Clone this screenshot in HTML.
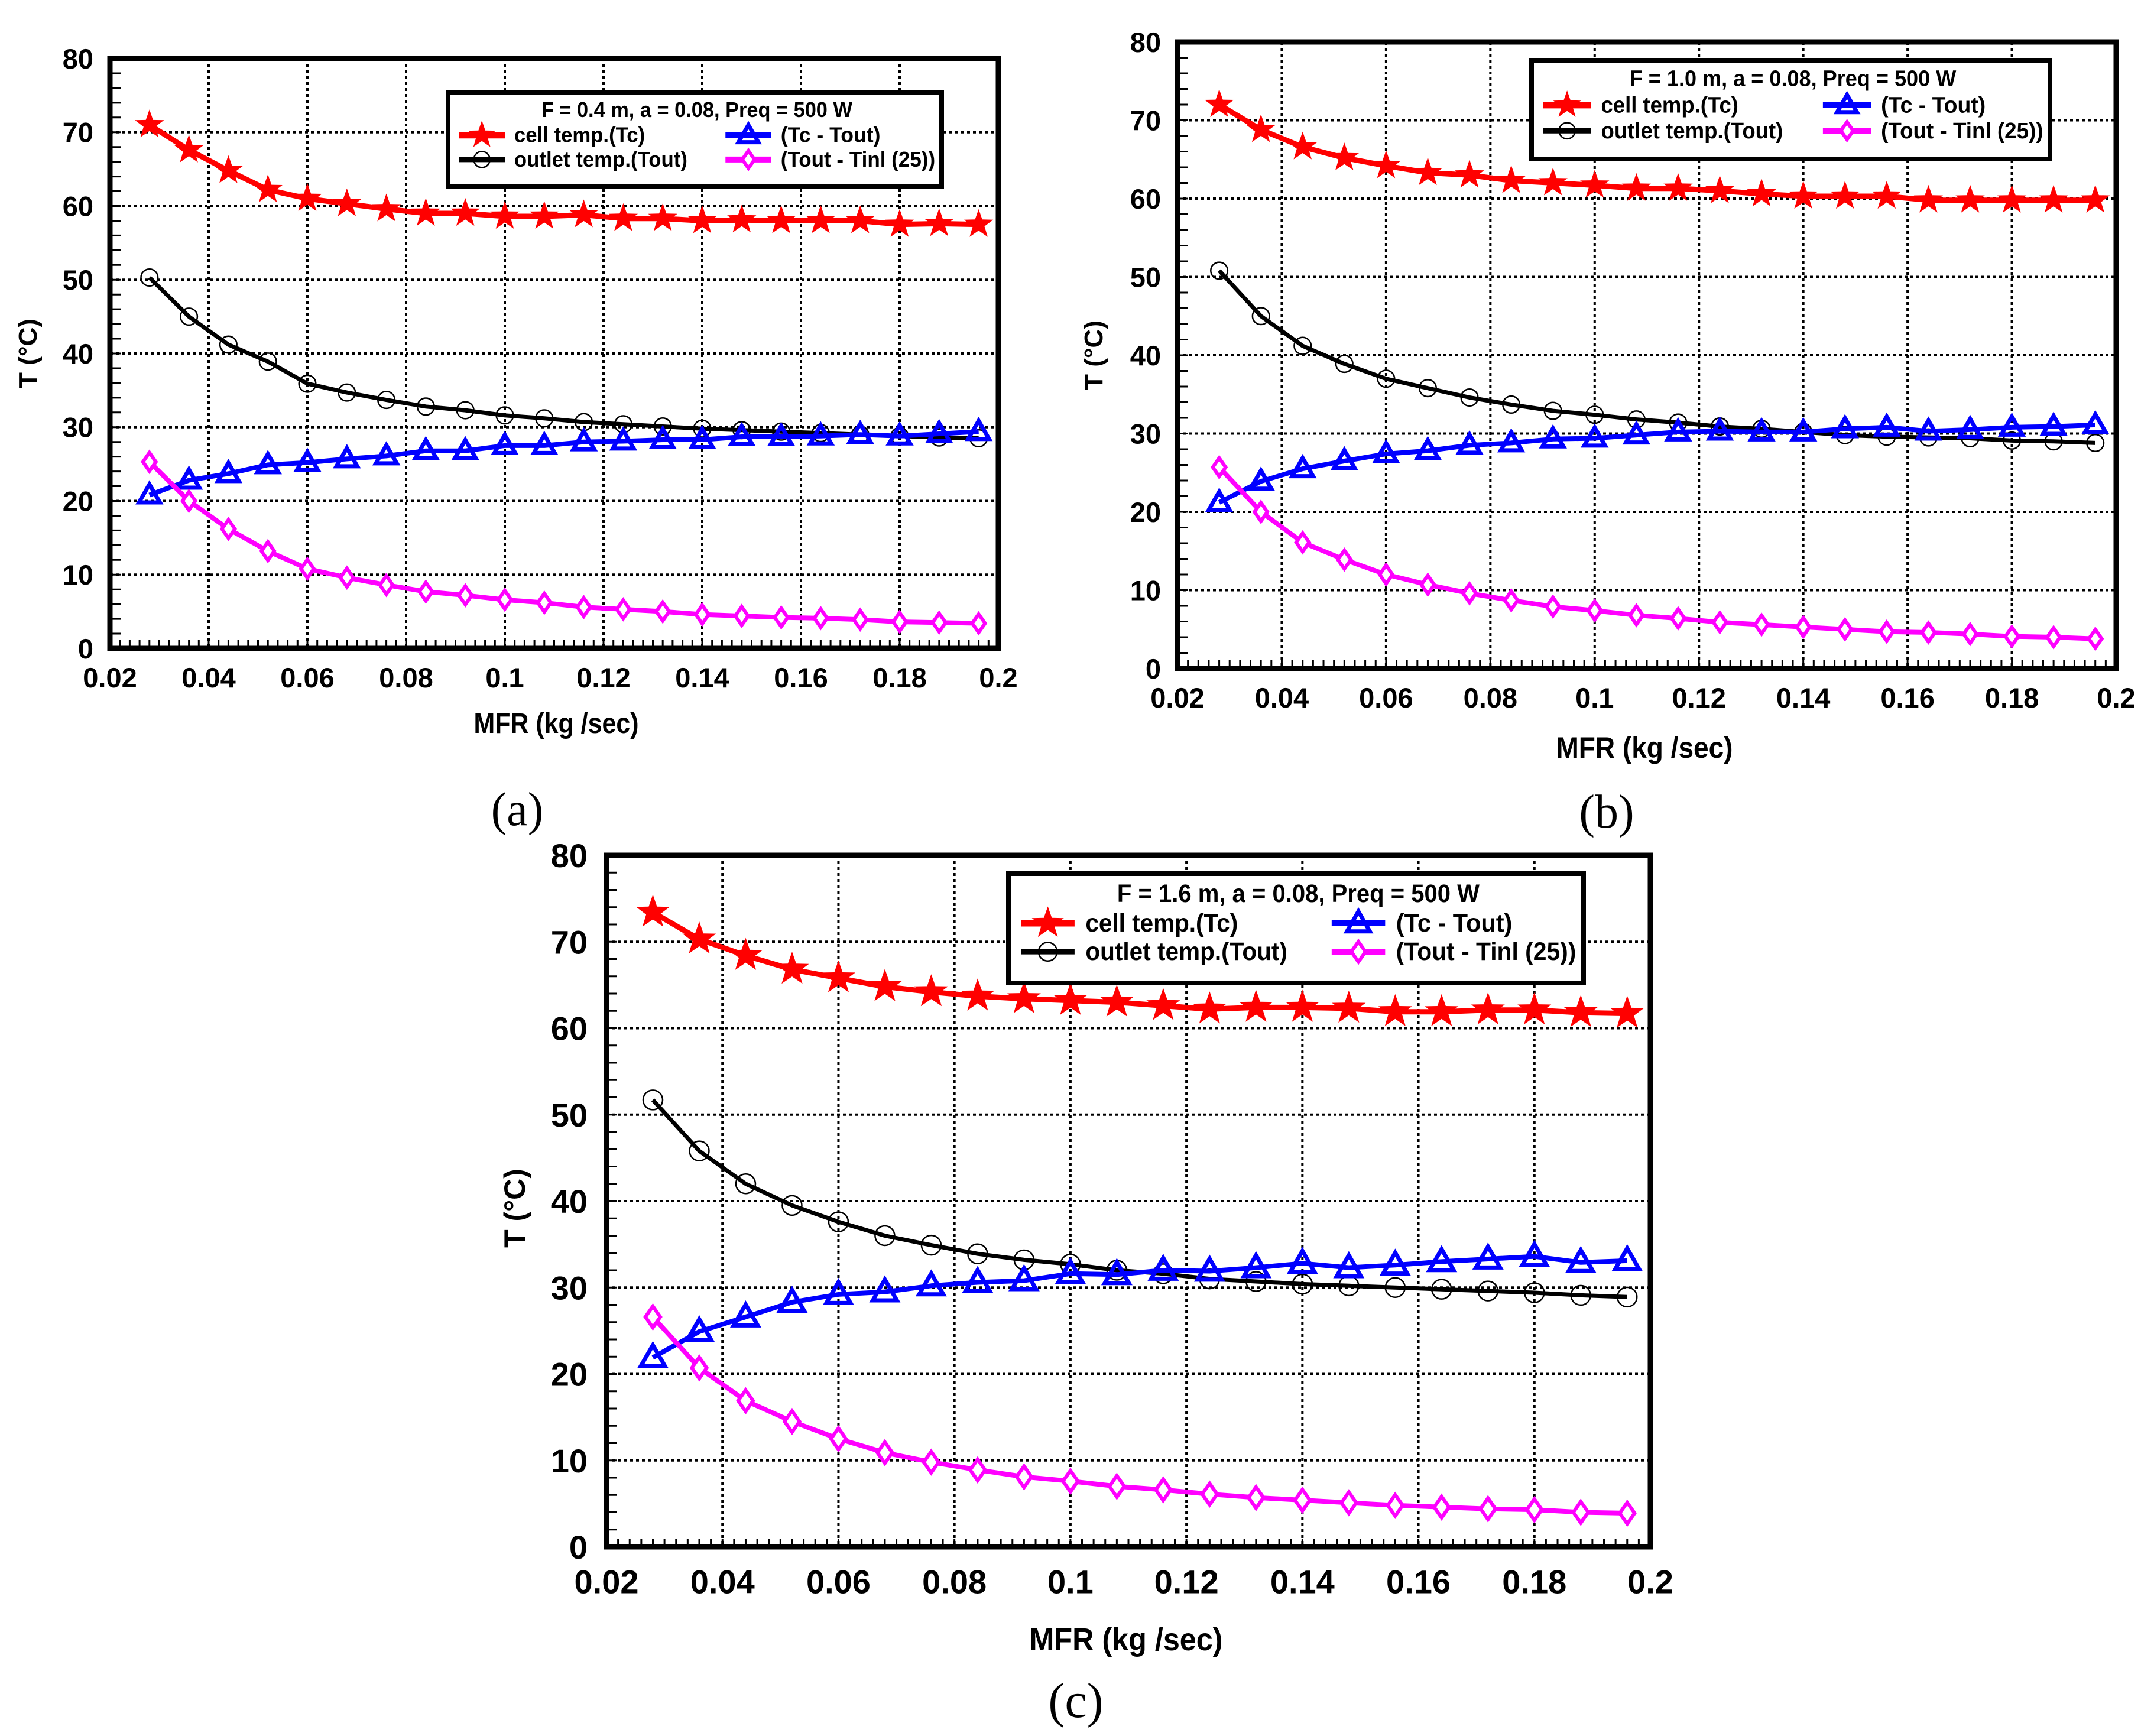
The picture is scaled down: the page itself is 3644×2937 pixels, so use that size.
<!DOCTYPE html>
<html><head><meta charset="utf-8"><style>
html,body{margin:0;padding:0;background:#fff;}
svg{display:block;}
</style></head><body>
<svg id="fig" xmlns="http://www.w3.org/2000/svg" width="3644" height="2937" viewBox="0 0 3644 2937">
<rect x="0" y="0" width="3644" height="2937" fill="#fff"/>
</svg>
<script>
// shared x categories (MFR, kg/s)
const mfr = [0.028,0.036,0.044,0.052,0.060,0.068,0.076,0.084,0.092,0.100,0.108,0.116,0.124,0.132,0.140,0.148,0.156,0.164,0.172,0.180,0.188,0.196];
const xTicks = [0.02,0.04,0.06,0.08,0.1,0.12,0.14,0.16,0.18,0.2];
const xTickLabels = ["0.02","0.04","0.06","0.08","0.1","0.12","0.14","0.16","0.18","0.2"];
const yTicks = [0,10,20,30,40,50,60,70,80];
const yTickLabels = ["0","10","20","30","40","50","60","70","80"];

// panel (a) F = 0.4 m
const tcA = [71,67.6,64.8,62.2,61,60.3,59.6,59,59,58.6,58.6,58.8,58.3,58.3,58,58.1,58,58,58,57.5,57.6,57.5];
const toutA = [50.3,45,41.2,38.9,35.9,34.7,33.7,32.8,32.3,31.6,31.2,30.7,30.4,30.1,29.8,29.6,29.4,29.2,29,28.8,28.6,28.5];
const dTcA = [20.8,22.8,23.7,24.9,25.2,25.7,26.1,26.8,26.8,27.5,27.5,28,28.1,28.3,28.3,28.7,28.7,28.8,29,28.8,29.1,29.4];
const dInA = [25.3,20,16.2,13.2,10.8,9.6,8.6,7.7,7.2,6.6,6.2,5.6,5.3,5,4.6,4.4,4.2,4.1,3.9,3.6,3.5,3.4];
// panel (b) F = 1.0 m
const tcB = [72,68.8,66.6,65.2,64.2,63.3,63,62.3,62,61.7,61.3,61.3,61,60.6,60.3,60.3,60.3,59.8,59.8,59.8,59.8,59.8];
const toutB = [50.8,45,41.2,38.9,37,35.8,34.6,33.7,32.9,32.4,31.8,31.4,30.9,30.6,30.2,29.8,29.6,29.5,29.4,29.1,29,28.8];
const dTcB = [21.2,23.9,25.5,26.5,27.4,27.8,28.5,28.8,29.3,29.4,29.8,30.2,30.3,30.2,30.2,30.6,30.8,30.3,30.5,30.8,30.9,31.1];
const dInB = [25.7,20,16.1,13.9,12,10.7,9.6,8.7,7.9,7.4,6.8,6.4,5.9,5.6,5.3,5,4.7,4.6,4.4,4.1,4,3.8];
// panel (c) F = 1.6 m
const tcC = [73.4,70.3,68.4,66.8,65.8,64.8,64.2,63.7,63.4,63.2,63,62.6,62.2,62.4,62.4,62.3,61.9,61.9,62.1,62.1,61.8,61.7];
const toutC = [51.7,45.8,42,39.5,37.6,36,34.9,33.9,33.2,32.7,32,31.6,31,30.7,30.4,30.2,30,29.8,29.6,29.4,29.1,28.9];
const dTcC = [21.9,24.9,26.6,28.3,29.2,29.5,30.2,30.6,30.8,31.6,31.5,32,31.9,32.3,32.8,32.3,32.6,33,33.3,33.6,32.9,33.1];
const dInC = [26.6,20.7,16.9,14.5,12.5,10.9,9.8,8.9,8.1,7.6,7,6.6,6.1,5.7,5.4,5.1,4.8,4.6,4.4,4.3,4,3.9];

const legendTitles = ["F = 0.4 m, a = 0.08, Preq = 500 W","F = 1.0 m, a = 0.08, Preq = 500 W","F = 1.6 m, a = 0.08, Preq = 500 W"];
const seriesNames = ["cell temp.(Tc)","(Tc - Tout)","outlet temp.(Tout)","(Tout - Tinl (25))"];
const nameWidthFrac = [0.265,0.202,0.351,0.313];

const NS = "http://www.w3.org/2000/svg";
const svg = document.getElementById('fig');
function mk(tag, attrs, parent){
  const e = document.createElementNS(NS, tag);
  for (const k in attrs) e.setAttribute(k, attrs[k]);
  (parent||svg).appendChild(e);
  return e;
}
function starPts(cx, cy, R){
  const r = R*0.4; let p=[];
  for(let i=0;i<10;i++){const a=-Math.PI/2+i*Math.PI/5; const rr=i%2?r:R; p.push((cx+rr*Math.cos(a)).toFixed(1)+","+(cy+rr*Math.sin(a)).toFixed(1));}
  return p.join(" ");
}
function marker(g, type, cx, cy, s){
  let m;
  if(type==='star'){ m = mk('polygon',{points:starPts(cx,cy,s*1.0),fill:'#ff0000'},g); }
  else if(type==='circle'){ m = mk('circle',{cx:cx,cy:cy,r:s*0.55,fill:'none',stroke:'#000','stroke-width':2.5},g); }
  else if(type==='tri'){ m = mk('polygon',{points:`${cx},${cy-s*0.7} ${cx-s*0.68},${cy+s*0.48} ${cx+s*0.68},${cy+s*0.48}`,fill:'none',stroke:'#0000ff','stroke-width':7},g); }
  else { m = mk('polygon',{points:`${cx},${cy-s*0.6} ${cx-s*0.42},${cy} ${cx},${cy+s*0.6} ${cx+s*0.42},${cy}`,fill:'#fff',stroke:'#ff00ff','stroke-width':6},g); }
  return m;
}

const panels = [
  {id:'a', L:186, R:1689, T:99, B:1097, tick:47, xlab:{x:941,y:1240,fs:48,w:279}, ylab:{x:62,y:598,fs:44}, letter:{x:875,y:1396,t:'(a)'}, leg:{x:758,y:157,w:835,h:158}, series:[tcA,toutA,dTcA,dInA], ms:26, ylabOff:28},
  {id:'b', L:1992, R:3580, T:71, B:1131, tick:47, xlab:{x:2782,y:1282,fs:50,w:299}, ylab:{x:1865,y:601,fs:44}, letter:{x:2718,y:1400,t:'(b)'}, leg:{x:2591,y:102,w:877,h:167}, series:[tcB,toutB,dTcB,dInB], ms:26, ylabOff:28},
  {id:'c', L:1026, R:2792, T:1447, B:2617, tick:56, xlab:{x:1905,y:2792,fs:54,w:327}, ylab:{x:888,y:2044,fs:50}, letter:{x:1820,y:2905,t:'(c)'}, leg:{x:1706,y:1478,w:973,h:185}, series:[tcC,toutC,dTcC,dInC], ms:30, ylabOff:32}
];
const styles = [
  {color:'#ff0000', w:9, m:'star', name:'cell-temp'},
  {color:'#000000', w:7, m:'circle', name:'outlet-temp'},
  {color:'#0000ff', w:8, m:'tri', name:'tc-minus-tout'},
  {color:'#ff00ff', w:8, m:'diamond', name:'tout-minus-tinl'}
];

panels.forEach((P, pi) => {
  const g = mk('g',{});
  
  
  const xs = v => P.L + (v-0.02)/(0.2-0.02)*(P.R-P.L);
  const ys = v => P.B - v/80*(P.B-P.T);
  xTicks.forEach((t,i)=>{ if(i>0 && i<xTicks.length-1){ const l=mk('line',{x1:xs(t),x2:xs(t),y1:P.T,y2:P.B,stroke:'#000','stroke-width':4,'stroke-dasharray':'5 5'},g);   }});
  yTicks.forEach((t,i)=>{ if(i>0 && i<yTicks.length-1){ const l=mk('line',{x1:P.L,x2:P.R,y1:ys(t),y2:ys(t),stroke:'#000','stroke-width':4,'stroke-dasharray':'5 5'},g);   }});
  for(let v=0.022; v<0.2; v+=0.002){ mk('line',{x1:xs(v),x2:xs(v),y1:P.B,y2:P.B-14,stroke:'#000','stroke-width':3},g); }
  for(let v=2; v<80; v+=2){ mk('line',{x1:P.L,x2:P.L+18,y1:ys(v),y2:ys(v),stroke:'#000','stroke-width':3},g); }
  xTicks.forEach((t,i)=>{ const tx=mk('text',{x:xs(t),y:P.B+P.tick*1.4,'font-family':'Liberation Sans, sans-serif','font-weight':'bold','font-size':P.tick,'text-anchor':'middle'},g); tx.textContent=xTickLabels[i];   });
  yTicks.forEach((t,i)=>{ const tx=mk('text',{x:P.L-P.ylabOff,y:ys(t)+P.tick*0.36,'font-family':'Liberation Sans, sans-serif','font-weight':'bold','font-size':P.tick,'text-anchor':'end'},g); tx.textContent=yTickLabels[i];   });
  P.series.forEach((vals, si) => {
    const S = styles[si];
    const sg = mk('g',{},g);
    
    
    const pts = vals.map((v,i)=>xs(mfr[i]).toFixed(1)+','+ys(v).toFixed(1)).join(' ');
    const pl = mk('polyline',{points:pts,fill:'none',stroke:S.color,'stroke-width':S.w,'stroke-linejoin':'round'},sg);
    
    
    vals.forEach((v,i)=>{
      const m = marker(sg, S.m, xs(mfr[i]), ys(v), P.ms);
      
      
    });
  });
  const fr = mk('rect',{x:P.L,y:P.T,width:P.R-P.L,height:P.B-P.T,fill:'none',stroke:'#000','stroke-width':9},g);
  
  
  const xl = mk('text',{x:P.xlab.x,y:P.xlab.y,'font-family':'Liberation Sans, sans-serif','font-weight':'bold','font-size':P.xlab.fs,'text-anchor':'middle',textLength:P.xlab.w,lengthAdjust:'spacingAndGlyphs'},g);
  xl.textContent = 'MFR (kg /sec)';
  
  
  const yl = mk('text',{x:P.ylab.x,y:P.ylab.y,'font-family':'Liberation Sans, sans-serif','font-weight':'bold','font-size':P.ylab.fs,'text-anchor':'middle',transform:`rotate(-90 ${P.ylab.x} ${P.ylab.y})`},g);
  yl.textContent = 'T (°C)';
  
  
  const lt = mk('text',{x:P.letter.x,y:P.letter.y,'font-family':'Liberation Serif, serif','font-size':P.id==='c'?84:80,'text-anchor':'middle'},g);
  lt.textContent = P.letter.t;
  
  
  const Lg = P.leg;
  const lg = mk('g',{},g);
  
  
  mk('rect',{x:Lg.x,y:Lg.y,width:Lg.w,height:Lg.h,fill:'#fff',stroke:'#000','stroke-width':8},lg);
  const fs = Lg.h*0.23;
  const ttl = mk('text',{x:Lg.x+Lg.w*0.189,y:Lg.y+Lg.h*0.26,'font-family':'Liberation Sans, sans-serif','font-weight':'bold','font-size':fs,textLength:Lg.w*0.63,lengthAdjust:'spacingAndGlyphs'},lg);
  ttl.textContent = legendTitles[pi];
  
  
  const entries = [[0,0.53,0],[2,0.53,1],[1,0.79,0],[3,0.79,1]];
  entries.forEach((en,k)=>{
    const S = styles[en[0]];
    const eg = mk('g',{},lg);
    
    
    const x0 = Lg.x + Lg.w*(en[2]?0.562:0.022), x1 = Lg.x + Lg.w*(en[2]?0.655:0.115);
    const cy = Lg.y + Lg.h*en[1] - fs*0.33;
    mk('line',{x1:x0,x2:x1,y1:cy,y2:cy,stroke:S.color,'stroke-width':S.w+2},eg);
    marker(eg, S.m, (x0+x1)/2, cy, P.ms*0.95);
    const t = mk('text',{x:Lg.x+Lg.w*(en[2]?0.674:0.134),y:Lg.y+Lg.h*en[1],'font-family':'Liberation Sans, sans-serif','font-weight':'bold','font-size':fs,textLength:Lg.w*nameWidthFrac[k],lengthAdjust:'spacingAndGlyphs'},eg);
    t.textContent = seriesNames[k];
  });
});
</script>
</body></html>
